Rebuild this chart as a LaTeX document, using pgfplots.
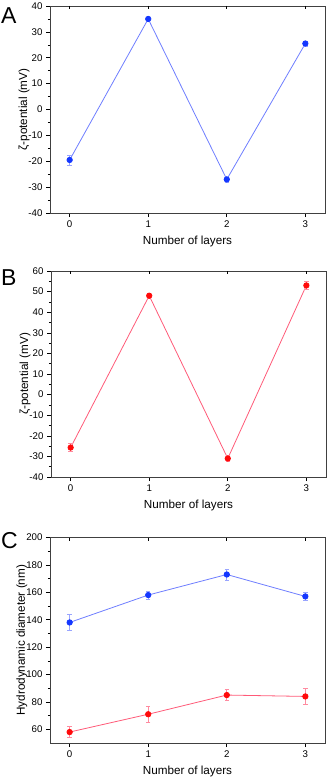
\documentclass[border=0pt]{standalone}
\usepackage{fontspec}
\setmainfont{Liberation Sans}
\usepackage{pgfplots}
\pgfplotsset{compat=1.18}
\definecolor{ptBlue}{HTML}{1437FF}
\definecolor{lnBlue}{HTML}{6E7EFF}
\definecolor{ptRed}{HTML}{FF0A0A}
\definecolor{lnRed}{HTML}{FF5A78}
\pgfplotsset{
  panel/.style={
    scale only axis,width=275pt,height=207pt,
    xmin=-0.25,xmax=3.25,
    xtick={0,1,2,3},
    axis line style={black!75,line width=0.7pt},
    tick align=outside,xtick pos=left,ytick pos=left,
    major tick length=4pt,minor tick length=2.2pt,
    tick style={black,line width=0.6pt},
    minor y tick num=1,
    tick label style={font=\fontsize{9.7}{11}\selectfont},
    /pgf/number format/assume math mode=true,
    label style={font=\fontsize{11.7}{13}\selectfont},
    xlabel={Number of layers},
    xlabel style={yshift=-2pt},
    ylabel style={yshift=-8pt},
    every axis plot/.append style={line width=0.8pt},
    clip=false,
  },
  topticks/.style={
    scale only axis,width=275pt,height=207pt,
    xmin=-0.25,xmax=3.25,ymin=0,ymax=1,
    xtick={0,1,2,3},xticklabels={},
    axis x line*=top,axis y line=none,
    axis line style={draw=none},
    tick align=inside,major tick length=3pt,
    tick style={black,line width=0.6pt},
  },
  bluepts/.style={color=lnBlue,mark=*,mark size=2.7pt,
    mark options={fill=ptBlue,draw=ptBlue},
    error bars/y dir=both,error bars/y explicit,
    error bars/error bar style={color=lnBlue!70,line width=0.6pt},
    error bars/error mark options={rotate=90,mark size=2.2pt,color=lnBlue!70}},
  redpts/.style={color=lnRed,mark=*,mark size=2.7pt,
    mark options={fill=ptRed,draw=ptRed},
    error bars/y dir=both,error bars/y explicit,
    error bars/error bar style={color=lnRed!70,line width=0.6pt},
    error bars/error mark options={rotate=90,mark size=2.2pt,color=lnRed!70}},
}
\begin{document}
\begin{tikzpicture}
\useasboundingbox (0,0) rectangle (332pt,-782pt);
\node[anchor=north west,inner sep=0pt,font=\fontsize{23}{25}\selectfont] at (1pt,-7pt) {A};
\node[anchor=north west,inner sep=0pt,font=\fontsize{23}{25}\selectfont] at (1pt,-269pt) {B};
\node[anchor=north west,inner sep=0pt,font=\fontsize{23}{25}\selectfont] at (1pt,-532pt) {C};

\begin{axis}[panel,at={(50pt,-213pt)},anchor=south west,
  ymin=-40,ymax=40,ytick={-40,-30,...,40},
  ylabel={ζ-potential (mV)}]
\addplot[bluepts] coordinates {
  (0,-19.5) +- (0,2)
  (1,35) +- (0,0.8)
  (2,-27) +- (0,1)
  (3,25.5) +- (0,1)
};
\end{axis}
\begin{axis}[topticks,at={(50pt,-213pt)},anchor=south west]
\end{axis}

\begin{axis}[panel,at={(51pt,-477pt)},anchor=south west,height=206pt,
  ymin=-40,ymax=60,ytick={-40,-30,...,60},
  ylabel={ζ-potential (mV)}]
\addplot[redpts] coordinates {
  (0,-25.7) +- (0,2)
  (1,48) +- (0,1)
  (2,-31) +- (0,1.5)
  (3,53) +- (0,2)
};
\end{axis}
\begin{axis}[topticks,at={(51pt,-477pt)},anchor=south west,height=206pt]
\end{axis}

\begin{axis}[panel,at={(50pt,-743pt)},anchor=south west,height=205.5pt,
  ymin=50,ymax=200,ytick={60,80,...,200},
  ylabel={Hydrodynamic diameter (nm)}]
\addplot[bluepts] coordinates {
  (0,138) +- (0,6)
  (1,158) +- (0,3)
  (2,173) +- (0,4)
  (3,157) +- (0,3)
};
\addplot[redpts] coordinates {
  (0,58) +- (0,4)
  (1,71) +- (0,6)
  (2,85) +- (0,4)
  (3,84) +- (0,6)
};
\end{axis}
\begin{axis}[topticks,at={(50pt,-743pt)},anchor=south west,height=205.5pt]
\end{axis}
\end{tikzpicture}
\end{document}
